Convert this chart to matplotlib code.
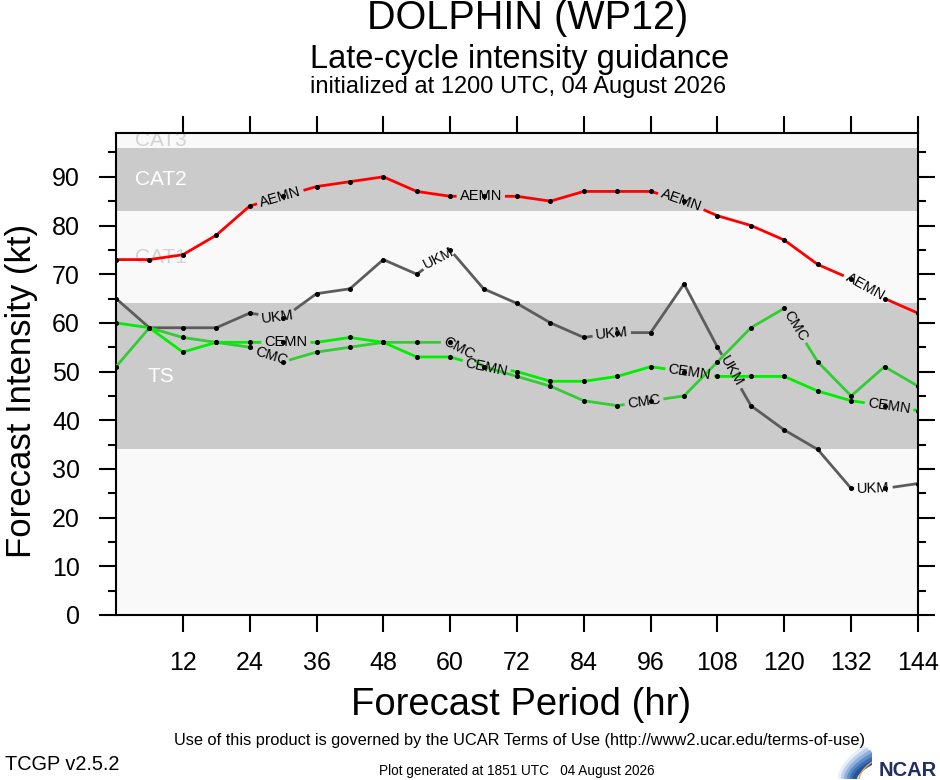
#!/usr/bin/env python3
"""
Late-cycle intensity guidance chart for DOLPHIN (WP12).
Saves out.png (940x780).
"""

import matplotlib
matplotlib.use('Agg')
import matplotlib.pyplot as plt
from matplotlib import rcParams
import numpy as np

rcParams['font.family'] = ['Liberation Sans', 'DejaVu Sans']

# Forecast hours and model intensities (kt)
hours = [0, 6, 12, 18, 24, 30, 36, 42, 48, 54, 60, 66, 72,
         78, 84, 90, 96, 102, 108, 114, 120, 126, 132, 138, 144]
aemn = [73, 73, 74, 78, 84, 86, 88, 89, 90, 87, 86, 86, 86,
        85, 87, 87, 87, 85, 82, 80, 77, 72, 69, 65, 62]
ukm = [65, 59, 59, 59, 62, 61, 66, 67, 73, 70, 75, 67, 64,
       60, 57, 58, 58, 68, 55, 43, 38, 34, 26, 26, 27]
cemn = [60, 59, 54, 56, 56, 56, 56, 57, 56, 53, 53, 51, 50,
        48, 48, 49, 51, 50, 49, 49, 49, 46, 44, 43, 42]
cmc = [51, 59, 57, 56, 55, 52, 54, 55, 56, 56, 56, 51, 49,
       47, 44, 43, 44, 45, 52, 59, 63, 52, 45, 51, 47]

# hours along each line where the model name is written
aemn_labels = [29.5, 65.5, 101.5, 134.5]
ukm_labels = [29, 58, 89, 110.5, 136]
cemn_labels = [30.5, 66.5, 103, 138.8]
cmc_labels = [27.8, 61.5, 94.8, 122]

# Saffir-Simpson bands
band_lo = [0, 34, 64, 83, 96]
band_hi = [34, 64, 83, 96, 113]
band_names = ['', 'TS', 'CAT1', 'CAT2', 'CAT3']

xticks = [12, 24, 36, 48, 60, 72, 84, 96, 108, 120, 132, 144]
YMAX = 99

GRAY = '#cbcbcb'
LIGHT = '#f9f9f9'


def draw_series(ax, renderer, x, y, color, name, label_hrs):
    """Draw a line broken where its name is written along it."""
    x = np.asarray(x, float)
    y = np.asarray(y, float)
    pix = ax.transData.transform(np.column_stack([x, y]))
    s = np.concatenate([[0.0], np.cumsum(np.hypot(*np.diff(pix, axis=0).T))])

    gaps = []
    for h in label_hrs:
        sc = np.interp(h, x, s)
        t = ax.text(0, 0, name, fontsize=10.5, ha='center', va='center',
                    rotation_mode='anchor', zorder=4, color='black')
        half = t.get_window_extent(renderer).width / 2 + 3
        a, b = sc - half, sc + half
        xa, ya = np.interp(a, s, pix[:, 0]), np.interp(a, s, pix[:, 1])
        xb, yb = np.interp(b, s, pix[:, 0]), np.interp(b, s, pix[:, 1])
        ang = np.degrees(np.arctan2(yb - ya, xb - xa))
        t.set_position((np.interp(sc, s, x), np.interp(sc, s, y)))
        t.set_rotation(ang)
        gaps.append((a, b))

    edges = [0.0] + [v for g in gaps for v in g] + [s[-1]]
    for k in range(0, len(edges), 2):
        lo, hi = edges[k], edges[k + 1]
        if hi <= lo:
            continue
        ss = np.concatenate([[lo], s[(s > lo) & (s < hi)], [hi]])
        ax.plot(np.interp(ss, s, x), np.interp(ss, s, y), color=color,
                lw=2, zorder=3, solid_capstyle='butt')

    ax.plot(x, y, 'o', color='black', ms=2.6, ls='none', zorder=5)


def draw_logo(fig):
    lax = fig.add_axes([838 / 940, 1 / 780, 34 / 940, 34 / 780])
    lax.set_xlim(0, 1)
    lax.set_ylim(0, 1)
    lax.axis('off')
    t = np.linspace(0, 1, 60)
    blues = ['#e6eef8', '#bcd0ea', '#8fb0dc', '#5f8cc8', '#3a6db4', '#23549e']
    for i, c in enumerate(blues):
        xs = 0.05 + i * 0.09 + t * 0.75
        ys = t ** 0.55 * (0.95 - i * 0.07)
        lax.plot(xs, ys, color=c, lw=3, solid_capstyle='butt')
    lax.plot(0.62 + t * 0.38, t ** 0.55 * 0.5, color='#f0a040', lw=1)


def main():
    fig = plt.figure(figsize=(9.4, 7.8), dpi=100)
    ax = fig.add_axes([116 / 940, 1 - 615 / 780, 802 / 940, 482 / 780])
    ax.set_xlim(0, 144)
    ax.set_ylim(0, YMAX)

    for lo, hi, nm, i in zip(band_lo, band_hi, band_names, range(len(band_lo))):
        face = GRAY if i % 2 else LIGHT
        ax.axhspan(lo, hi, color=face, zorder=0, lw=0)
        if nm:
            ymid = (lo + min(hi, YMAX)) / 2
            tc = 'white' if i % 2 else '#d2d2d2'
            ax.text(8, ymid, nm, fontsize=15, color=tc, ha='center',
                    va='center', zorder=1, clip_on=True)

    renderer = fig.canvas.get_renderer()
    draw_series(ax, renderer, hours, aemn, '#ff0000', 'AEMN', aemn_labels)
    draw_series(ax, renderer, hours, ukm, '#5c5c5c', 'UKM', ukm_labels)
    draw_series(ax, renderer, hours, cmc, '#33cc33', 'CMC', cmc_labels)
    draw_series(ax, renderer, hours, cemn, '#00ee00', 'CEMN', cemn_labels)

    ax.set_xticks(xticks)
    ax.set_yticks(np.arange(0, 91, 10))
    ax.set_yticks(np.arange(5, 96, 10), minor=True)
    ax.tick_params(which='both', direction='out', top=True, right=True,
                   width=1.5, labelsize=18)
    ax.tick_params(which='major', length=12, pad=14)
    ax.tick_params(which='minor', length=6)
    for sp in ax.spines.values():
        sp.set_linewidth(1.5)

    fig.text(521 / 940, 1 - 705 / 780, 'Forecast Period (hr)',
             ha='center', va='center', fontsize=27.5)
    fig.text(22 / 940, 1 - 391 / 780, 'Forecast Intensity (kt)',
             ha='center', va='center', fontsize=25, rotation=90)

    fig.text(528 / 940, 1 - 29 / 780, 'DOLPHIN (WP12)',
             ha='center', va='baseline', fontsize=28.5)
    fig.text(520 / 940, 1 - 68 / 780, 'Late-cycle intensity guidance',
             ha='center', va='baseline', fontsize=23.5)
    fig.text(518 / 940, 1 - 93 / 780, 'initialized at 1200 UTC, 04 August 2026',
             ha='center', va='baseline', fontsize=17)

    fig.text(520 / 940, 1 - 741 / 780,
             'Use of this product is governed by the UCAR Terms of Use '
             '(http://www2.ucar.edu/terms-of-use)',
             ha='center', va='center', fontsize=11.8)
    fig.text(5 / 940, 1 - 764 / 780, 'TCGP v2.5.2',
             ha='left', va='center', fontsize=14.3)
    fig.text(517 / 940, 1 - 771 / 780,
             'Plot generated at 1851 UTC   04 August 2026',
             ha='center', va='center', fontsize=9.8)

    draw_logo(fig)
    fig.text(937 / 940, 1 - 770 / 780, 'NCAR', ha='right', va='center',
             fontsize=14.5, weight='bold', color='#1f2f5f')

    fig.savefig('out.png', dpi=100)
    plt.close(fig)


if __name__ == '__main__':
    main()
